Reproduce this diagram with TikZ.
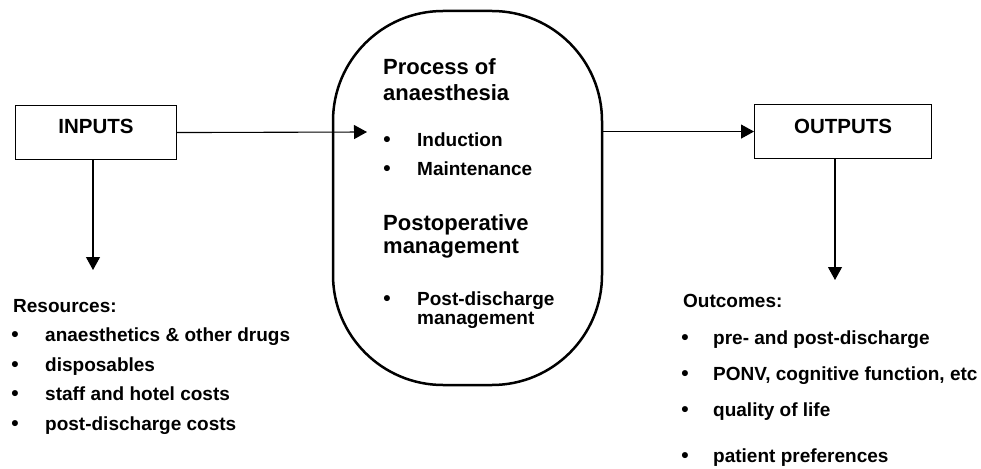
\documentclass[tikz,border=0pt]{standalone}
\usepackage{fontspec}
\setmainfont{Liberation Sans}
\usetikzlibrary{arrows.meta}
\tikzset{
  box/.style={draw, line width=1.1pt, inner sep=0pt, font=\bfseries\fontsize{20.5}{24}\selectfont},
  proc/.style={draw, line width=2.5pt, rounded corners=110pt, inner sep=0pt, minimum width=269pt, minimum height=374pt},
  arr/.style={line width=1.1pt, -{Triangle[length=13pt,width=14pt]}},
  head/.style={anchor=base west, inner sep=0pt, font=\bfseries\fontsize{22}{25}\selectfont},
  item/.style={anchor=base west, inner sep=0pt, font=\bfseries\fontsize{19}{22}\selectfont},
  bul/.style={anchor=base, inner sep=0pt, font=\bfseries\fontsize{21}{22}\selectfont},
}
\begin{document}
\begin{tikzpicture}[x=1pt,y=-1pt]
\useasboundingbox (0,0) rectangle (981,468);
% boxes
\node[box, minimum width=161pt, text height=28pt, text depth=26pt, anchor=north west] (inputs) at (15,105) {INPUTS};
\node[box, minimum width=177pt, text height=29pt, text depth=25pt, anchor=north west] (outputs) at (754,104) {OUTPUTS};
\node[proc] (proc) at (467.5,198) {};
% connectors
\coordinate (intip) at (367,132);
\coordinate (indown) at (93,270);
\coordinate (outdown) at (835,280);
\draw[arr] (inputs.east) -- (intip);
\draw[arr] (proc.east |- outputs.west) -- (outputs.west);
\draw[arr] (inputs.south -| indown) -- (indown);
\draw[arr] (outputs.south -| outdown) -- (outdown);
% central text
\node[head] (h1) at (383,75) {Process of};
\node[head] (h2) at (383,100) {anaesthesia};
\node[bul] (b1) at (387,146) {•};
\node[item] (i1) at (417,146) {Induction};
\node[bul] (b2) at (387,175) {•};
\node[item] (i2) at (417,175) {Maintenance};
\node[head] (h3) at (383,230) {Postoperative};
\node[head] (h4) at (383,253) {management};
\node[bul] (b3) at (387,305) {•};
\node[item] (i3) at (417,305) {Post-discharge};
\node[item] (i3b) at (417,324) {management};
% resources
\node[item] (res) at (13,312) {Resources:};
\node[bul] (rb1) at (15,341) {•};
\node[item] (r1) at (45,341) {anaesthetics \& other drugs};
\node[bul] (rb2) at (15,371) {•};
\node[item] (r2) at (45,371) {disposables};
\node[bul] (rb3) at (15,400) {•};
\node[item] (r3) at (45,400) {staff and hotel costs};
\node[bul] (rb4) at (15,430) {•};
\node[item] (r4) at (45,430) {post-discharge costs};
% outcomes
\node[item] (out) at (683,307) {Outcomes:};
\node[bul] (ob1) at (685,344) {•};
\node[item] (o1) at (713,344) {pre- and post-discharge};
\node[bul] (ob2) at (685,380) {•};
\node[item] (o2) at (713,380) {PONV, cognitive function, etc};
\node[bul] (ob3) at (685,416) {•};
\node[item] (o3) at (713,416) {quality of life};
\node[bul] (ob4) at (685,462) {•};
\node[item] (o4) at (713,462) {patient preferences};
\end{tikzpicture}
\end{document}
